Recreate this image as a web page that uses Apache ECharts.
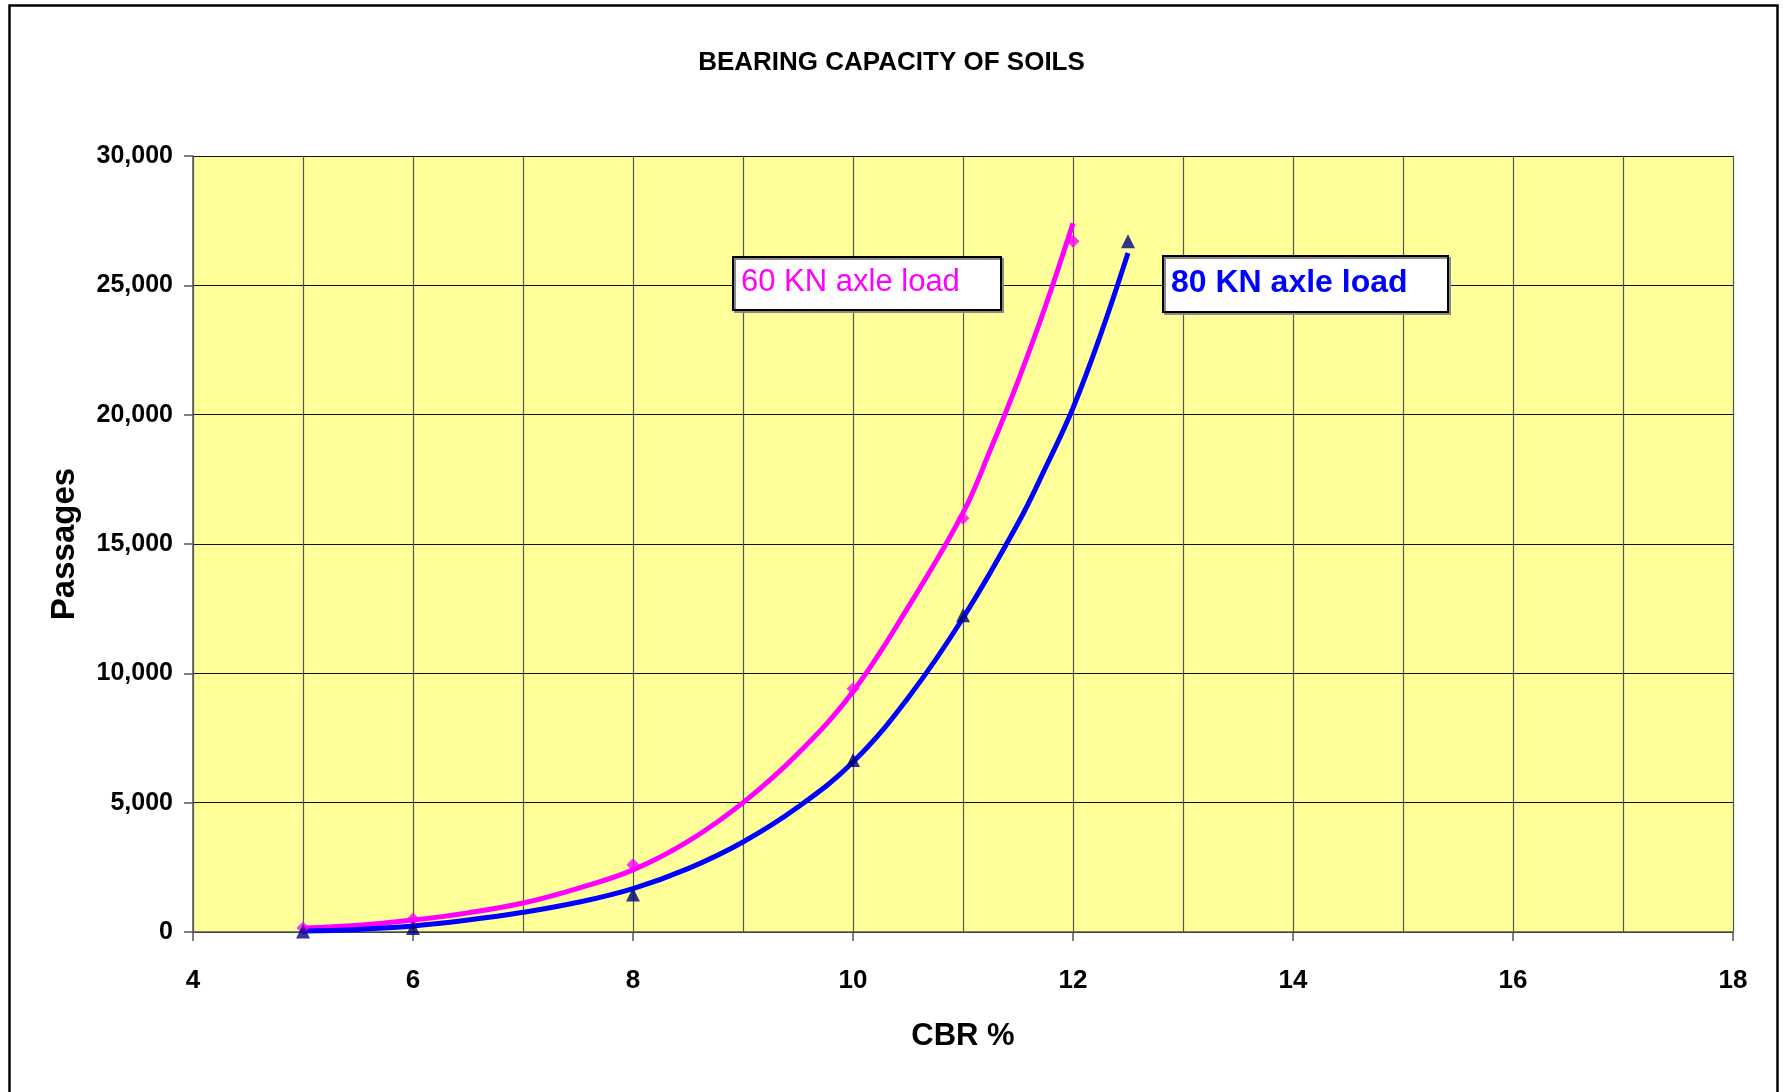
<!DOCTYPE html>
<html>
<head>
<meta charset="utf-8">
<script src="https://cdn.jsdelivr.net/npm/echarts@6/dist/echarts.min.js"></script>
<style>
html,body{margin:0;padding:0;background:#fff;}
#chart{width:1783px;height:1092px;}
</style>
</head>
<body>
<div id="chart"></div>
<script>
// ---- data ----
var titleText = 'BEARING CAPACITY OF SOILS';
var xAxisName = 'CBR %';
var yAxisName = 'Passages';
var seriesNames = ['60 KN axle load', '80 KN axle load'];

// trend curves
var cbrTrend60  = [5, 5.5, 6, 6.5, 7, 7.5, 8, 8.5, 9, 9.5, 10, 10.5, 11, 11.25, 11.5, 11.75, 12];
var passTrend60 = [150, 260, 460, 740, 1120, 1690, 2400, 3500, 5000, 6900, 9300, 12550, 16200, 18650, 21300, 24200, 27400];
var cbrTrend80  = [5, 5.5, 6, 6.5, 7, 7.5, 8, 8.5, 9, 9.5, 10, 10.5, 11, 11.5, 11.75, 12, 12.25, 12.5];
var passTrend80 = [40, 100, 230, 460, 760, 1150, 1680, 2450, 3480, 4830, 6570, 9050, 12140, 15800, 17950, 20260, 23080, 26250];

// measured points (markers)
var cbrPts60  = [5, 6, 8, 10, 11, 12];
var passPts60 = [150, 500, 2600, 9400, 16000, 26700];
var cbrPts80  = [5, 6, 8, 10, 11, 12.5];
var passPts80 = [20, 150, 1450, 6650, 12250, 26700];

function pairs(xs, ys) { return xs.map(function (x, i) { return [x, ys[i]]; }); }

var FONT = '"Liberation Sans", Arial, sans-serif';
var chart = echarts.init(document.getElementById('chart'));

chart.setOption({
  backgroundColor: '#ffffff',
  animation: false,
  title: {
    text: titleText,
    left: 'center',
    top: 45,
    textStyle: { fontFamily: FONT, fontSize: 26, fontWeight: 'bold', color: '#000' }
  },
  grid: {
    left: 193, right: 50, top: 156, bottom: 160,
    show: true, backgroundColor: '#FFFF99', borderWidth: 0
  },
  xAxis: {
    type: 'value',
    min: 4, max: 18, interval: 2,
    name: xAxisName,
    nameLocation: 'middle',
    nameGap: 89,
    nameTextStyle: { fontFamily: FONT, fontSize: 31, fontWeight: 'bold', color: '#000' },
    axisLine: { show: true, lineStyle: { color: '#555', width: 1.5 } },
    axisTick: { show: true, length: 9, lineStyle: { color: '#555', width: 1.5 } },
    axisLabel: { margin: 36, fontFamily: FONT, fontSize: 26, fontWeight: 'bold', color: '#000' },
    splitLine: { show: true, lineStyle: { color: '#555', width: 1.2 } },
    minorTick: { show: false, splitNumber: 2 },
    minorSplitLine: { show: true, lineStyle: { color: '#555', width: 1.2 } }
  },
  yAxis: {
    type: 'value',
    min: 0, max: 30000, interval: 5000,
    name: yAxisName,
    nameLocation: 'middle',
    nameGap: 112,
    nameTextStyle: { fontFamily: FONT, fontSize: 33, fontWeight: 'bold', color: '#000' },
    axisLine: { show: true, lineStyle: { color: '#555', width: 1.5 } },
    axisTick: { show: true, length: 9, lineStyle: { color: '#555', width: 1.5 } },
    axisLabel: {
      margin: 20, fontFamily: FONT, fontSize: 25, fontWeight: 'bold', color: '#000',
      formatter: function (v) { return v.toLocaleString('en-US'); }
    },
    splitLine: { show: true, lineStyle: { color: '#111', width: 1.2 } }
  },
  series: [
    {
      name: seriesNames[0] + ' trend', type: 'line', smooth: 0.4,
      showSymbol: false, symbol: 'none', data: pairs(cbrTrend60, passTrend60),
      lineStyle: { color: '#FF00FF', width: 5 }, z: 3
    },
    {
      name: seriesNames[1] + ' trend', type: 'line', smooth: 0.4,
      showSymbol: false, symbol: 'none', data: pairs(cbrTrend80, passTrend80),
      lineStyle: { color: '#0000FF', width: 5 }, z: 3
    },
    {
      name: seriesNames[0], type: 'scatter', symbol: 'diamond', symbolSize: 13,
      data: pairs(cbrPts60, passPts60), itemStyle: { color: '#FF00FF' }, z: 4
    },
    {
      name: seriesNames[1], type: 'scatter', symbol: 'triangle', symbolSize: 14,
      data: pairs(cbrPts80, passPts80), itemStyle: { color: '#000080' }, z: 4
    }
  ],
  graphic: [
    {
      type: 'rect', left: 7, top: 3, z: 100, silent: true,
      shape: { width: 1768, height: 1110 },
      style: { fill: 'none', stroke: '#000', lineWidth: 2.5 }
    },
    {
      type: 'rect', z: 60, left: 732, top: 256,
      shape: { x: 0, y: 0, width: 268, height: 53 },
      style: { fill: '#fff', stroke: '#000', lineWidth: 2, shadowColor: '#8a8a8a', shadowOffsetX: 2, shadowOffsetY: 2, shadowBlur: 0 }
    },
    {
      type: 'text', z: 61, left: 741, top: 267,
      style: { text: seriesNames[0], fill: '#FF00FF', font: 'normal 31px ' + FONT }
    },
    {
      type: 'rect', z: 60, left: 1162, top: 255,
      shape: { x: 0, y: 0, width: 285, height: 56 },
      style: { fill: '#fff', stroke: '#000', lineWidth: 2, shadowColor: '#8a8a8a', shadowOffsetX: 2, shadowOffsetY: 2, shadowBlur: 0 }
    },
    {
      type: 'text', z: 61, left: 1171, top: 267,
      style: { text: seriesNames[1], fill: '#0000FF', font: 'bold 32px ' + FONT }
    }
  ]
});
</script>
</body>
</html>
